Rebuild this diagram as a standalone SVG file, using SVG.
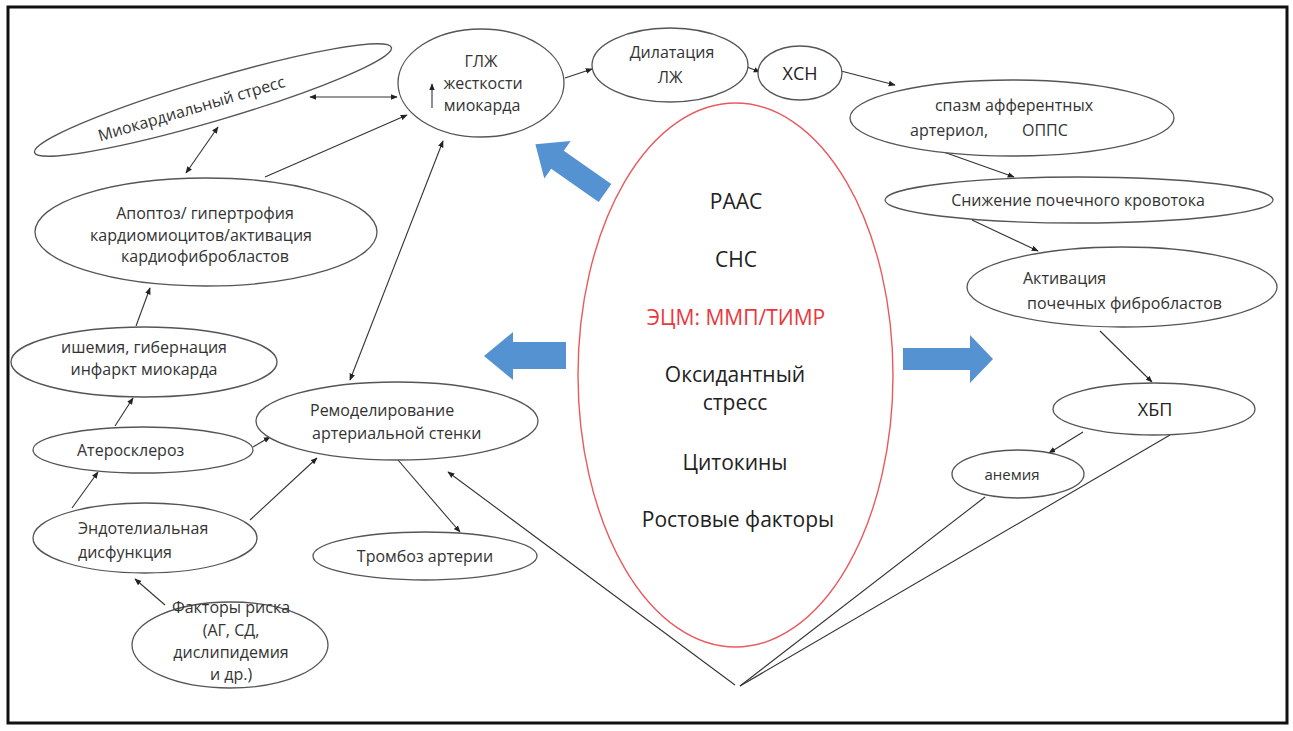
<svg xmlns="http://www.w3.org/2000/svg" width="1293" height="731" viewBox="0 0 1293 731">
<style>
.n{fill:#fff;stroke:#555;stroke-width:1.3}
.t{font-family:"Open Sans","Liberation Sans",sans-serif;font-size:16px;fill:#333}
.c{text-anchor:middle}
.hx{font-size:18px;fill:#222}
.sm{font-size:15px}
.big{font-size:21px;fill:#222}
.red{fill:#e8383d}
.ln{stroke:#333;stroke-width:1.1;fill:none}
.blue{fill:#5592d2}
</style>
<defs>
<marker id="ah" viewBox="0 0 10 10" refX="9" refY="5" markerWidth="7" markerHeight="7" orient="auto-start-reverse" markerUnits="userSpaceOnUse"><path d="M0,1 L10,5 L0,9 z" fill="#222"/></marker>
</defs>
<rect x="0" y="0" width="1293" height="731" fill="#fff"/>
<rect x="8" y="7" width="1279" height="716" fill="#fff" stroke="#111" stroke-width="3"/>

<g id="connectors">
<line class="ln" x1="310" y1="97" x2="397" y2="97" marker-start="url(#ah)" marker-end="url(#ah)"/>
<line class="ln" x1="218" y1="127" x2="186" y2="173" marker-start="url(#ah)" marker-end="url(#ah)"/>
<line class="ln" x1="265" y1="177" x2="407" y2="115" marker-end="url(#ah)"/>
<line class="ln" x1="443" y1="141" x2="350" y2="380" marker-start="url(#ah)" marker-end="url(#ah)"/>
<line class="ln" x1="565" y1="78" x2="592" y2="69" marker-end="url(#ah)"/>
<line class="ln" x1="747" y1="67" x2="760" y2="72" marker-end="url(#ah)"/>
<line class="ln" x1="841" y1="71" x2="895" y2="85" marker-end="url(#ah)"/>
<line class="ln" x1="938" y1="150" x2="1014" y2="177" marker-end="url(#ah)"/>
<line class="ln" x1="972" y1="220" x2="1038" y2="251" marker-end="url(#ah)"/>
<line class="ln" x1="1100" y1="331" x2="1152" y2="382" marker-end="url(#ah)"/>
<line class="ln" x1="1083" y1="432" x2="1049" y2="453" marker-end="url(#ah)"/>
<line class="ln" x1="985" y1="497" x2="740" y2="686"/>
<line class="ln" x1="1170" y1="435" x2="740" y2="686"/>
<line class="ln" x1="735" y1="685" x2="448" y2="472" marker-end="url(#ah)"/>
<line class="ln" x1="136" y1="326" x2="150" y2="288" marker-end="url(#ah)"/>
<line class="ln" x1="115" y1="426" x2="133" y2="398" marker-end="url(#ah)"/>
<line class="ln" x1="72" y1="508" x2="98" y2="472" marker-end="url(#ah)"/>
<line class="ln" x1="253" y1="447" x2="270" y2="437" marker-end="url(#ah)"/>
<line class="ln" x1="250" y1="520" x2="317" y2="458" marker-end="url(#ah)"/>
<line class="ln" x1="165" y1="605" x2="135" y2="579" marker-end="url(#ah)"/>
<line class="ln" x1="398" y1="460" x2="460" y2="532" marker-end="url(#ah)"/>
</g>

<g id="blue-arrows">
<polygon class="blue" transform="translate(605,193) rotate(215)" points="0,-11 58,-11 58,-23 85,0 58,23 58,11 0,11"/>
<polygon class="blue" points="484,356 513,332 513,342 566,342 566,369 513,369 513,380"/>
<polygon class="blue" points="903,348 970,348 970,335 993,359 970,383 970,370 903,370"/>
</g>

<g id="n-stress">
<ellipse class="n" cx="213" cy="100" rx="186" ry="21" transform="rotate(-16.4 213 100)"/>
<text class="t c" transform="translate(193,114) rotate(-16.4)">Миокардиальный стресс</text>
</g>
<g id="n-glzh">
<ellipse class="n" cx="481" cy="83" rx="83" ry="54"/>
<text class="t c" x="481" y="67">ГЛЖ</text>
<text class="t c" x="483" y="89">жесткости</text>
<text class="t c" x="482" y="111">миокарда</text>
<line class="ln" x1="432" y1="108" x2="432" y2="84" marker-end="url(#ah)"/>
</g>
<g id="n-dil">
<ellipse class="n" cx="670" cy="65" rx="78" ry="37"/>
<text class="t c" x="672" y="58">Дилатация</text>
<text class="t c" x="670" y="83">ЛЖ</text>
</g>
<g id="n-hsn">
<ellipse class="n" cx="800" cy="73" rx="42" ry="27"/>
<text class="t c hx" x="800" y="80">ХСН</text>
</g>
<g id="n-spazm">
<ellipse class="n" cx="1012" cy="118" rx="162" ry="38"/>
<text class="t c" x="1014" y="111">спазм афферентных</text>
<text class="t" x="910" y="136">артериол,</text>
<text class="t" x="1022" y="136">ОППС</text>
</g>
<g id="n-snizh">
<ellipse class="n" cx="1079" cy="200" rx="194" ry="23"/>
<text class="t c" x="1078" y="206">Снижение почечного кровотока</text>
</g>
<g id="n-akt">
<ellipse class="n" cx="1122" cy="287" rx="155" ry="40"/>
<text class="t" x="1023" y="284">Активация</text>
<text class="t" x="1027" y="309">почечных фибробластов</text>
</g>
<g id="n-hbp">
<ellipse class="n" cx="1154" cy="409" rx="101" ry="26"/>
<text class="t c hx" x="1155" y="416">ХБП</text>
</g>
<g id="n-anemia">
<ellipse class="n" cx="1018" cy="474" rx="66" ry="24"/>
<text class="t c sm" x="1012" y="480">анемия</text>
</g>
<g id="n-apoptoz">
<ellipse class="n" cx="206" cy="232" rx="171" ry="54"/>
<text class="t c" x="205" y="219">Апоптоз/ гипертрофия</text>
<text class="t c" x="201" y="241">кардиомиоцитов/активация</text>
<text class="t c" x="205" y="262">кардиофибробластов</text>
</g>
<g id="n-ishemia">
<ellipse class="n" cx="144" cy="362" rx="133" ry="35"/>
<text class="t c" x="144" y="353">ишемия, гибернация</text>
<text class="t c" x="144" y="375">инфаркт миокарда</text>
</g>
<g id="n-ateroskleroz">
<ellipse class="n" cx="143" cy="450" rx="110" ry="23"/>
<text class="t" x="77" y="456">Атеросклероз</text>
</g>
<g id="n-endotel">
<ellipse class="n" cx="145" cy="538" rx="112" ry="35"/>
<text class="t" x="78" y="534">Эндотелиальная</text>
<text class="t" x="78" y="558">дисфункция</text>
</g>
<g id="n-faktory">
<ellipse class="n" cx="230" cy="645" rx="98" ry="43"/>
<text class="t c" x="231" y="613">Факторы риска</text>
<text class="t c" x="231" y="636">(АГ, СД,</text>
<text class="t c" x="231" y="658">дислипидемия</text>
<text class="t c" x="231" y="680">и др.)</text>
</g>
<g id="n-remod">
<ellipse class="n" cx="397" cy="421" rx="141" ry="39"/>
<text class="t" x="310" y="416">Ремоделирование</text>
<text class="t" x="312" y="439">артериальной стенки</text>
</g>
<g id="n-tromboz">
<ellipse class="n" cx="425" cy="556" rx="112" ry="24"/>
<text class="t c" x="425" y="562">Тромбоз артерии</text>
</g>
<g id="n-center">
<ellipse cx="735.5" cy="375" rx="157.5" ry="272" fill="none" stroke="#e85a5e" stroke-width="1.4"/>
<text class="t c big" x="736" y="209">РААС</text>
<text class="t c big" x="736" y="267">СНС</text>
<text class="t c big red" x="736" y="325">ЭЦМ: ММП/ТИМР</text>
<text class="t c big" x="735" y="382">Оксидантный</text>
<text class="t c big" x="735" y="410">стресс</text>
<text class="t c big" x="735" y="470">Цитокины</text>
<text class="t c big" x="738" y="527">Ростовые факторы</text>
</g>
</svg>
